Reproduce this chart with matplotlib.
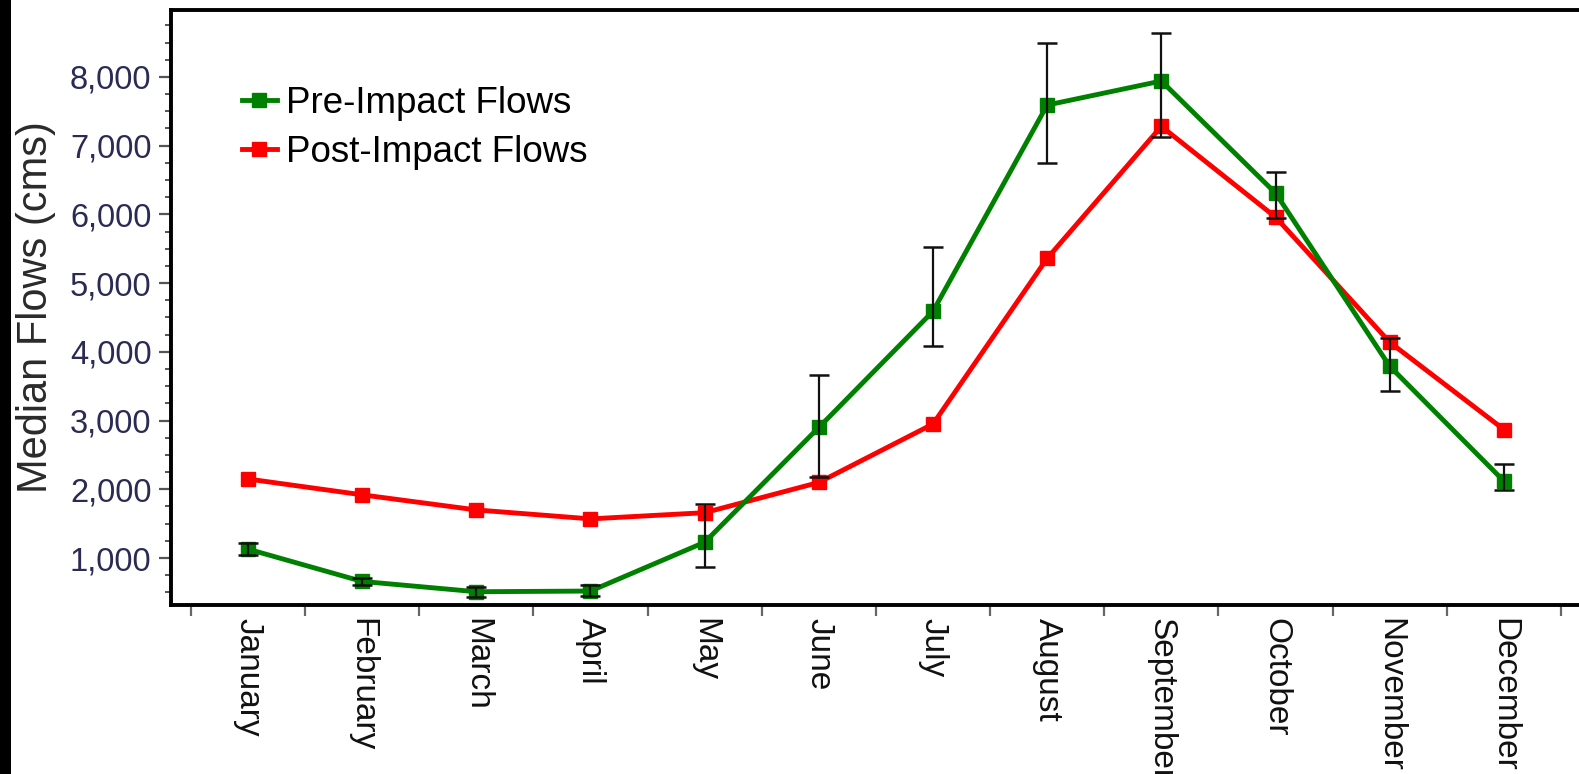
import matplotlib
matplotlib.use("Agg")
import matplotlib.pyplot as plt
from matplotlib.patches import Rectangle
from matplotlib.ticker import FixedLocator, MultipleLocator, FuncFormatter

# Monthly median flows (cms)
months = ["January", "February", "March", "April", "May", "June",
          "July", "August", "September", "October", "November", "December"]
pre_impact = [1130, 660, 510, 520, 1230, 2900, 4590, 7590, 7940, 6310, 3790, 2120]
pre_upper = [1220, 710, 580, 610, 1780, 3670, 5520, 8490, 8640, 6620, 4200, 2370]
pre_lower = [1045, 610, 440, 450, 870, 2180, 4080, 6740, 7130, 5940, 3430, 1990]
post_impact = [2150, 1920, 1700, 1570, 1660, 2100, 2950, 5360, 7280, 5960, 4140, 2870]

W, H = 1579, 774
fig = plt.figure(figsize=(W / 100, H / 100), dpi=100)
fig.patch.set_facecolor("white")
plt.rcParams["font.family"] = ["Liberation Sans", "DejaVu Sans"]

# dark strip along the left edge
fig.add_artist(Rectangle((0, 0), 11 / W, 1, transform=fig.transFigure,
                         facecolor="black", edgecolor="none", zorder=10))

left, bottom, top = 171 / W, 1 - 605 / H, 1 - 10 / H
ax = fig.add_axes([left, bottom, 1.0 - left, top - bottom])

x = list(range(1, len(months) + 1))
yerr = [[p - lo for p, lo in zip(pre_impact, pre_lower)],
        [hi - p for p, hi in zip(pre_impact, pre_upper)]]

ax.plot(x, post_impact, color="#ff0000", lw=3.5, marker="s", ms=10,
        label="Post-Impact Flows", zorder=3)
ax.plot(x, pre_impact, color="#008000", lw=3.5, marker="s", ms=10,
        label="Pre-Impact Flows", zorder=4)
ax.errorbar(x, pre_impact, yerr=yerr, fmt="none", ecolor="#111111",
            elinewidth=1.6, capsize=7.5, capthick=1.8, zorder=5)

ax.set_xlim(0.326, 12.658)
ax.set_ylim(317, 8973)

# month labels centred on the points, tick marks on the boundaries
ax.xaxis.set_major_locator(FixedLocator(x))
ax.set_xticklabels(months, rotation=270, ha="center", va="top",
                   fontsize=24, color="#111111")
ax.xaxis.set_minor_locator(FixedLocator([i + 0.5 for i in range(0, 13)]))
ax.tick_params(axis="x", which="major", length=0, pad=9)
ax.tick_params(axis="x", which="minor", length=8, width=1.6,
               color="#666666", direction="out")

ax.yaxis.set_major_locator(FixedLocator(range(1000, 9000, 1000)))
ax.yaxis.set_minor_locator(MultipleLocator(250))
ax.yaxis.set_major_formatter(FuncFormatter(lambda v, p: f"{int(v):,}"))
ax.tick_params(axis="y", which="major", length=9, width=1.6,
               color="#555555", labelsize=23.5, labelcolor="#2a2a55", pad=5)
ax.tick_params(axis="y", which="minor", length=4.5, width=1.4,
               color="#555555")

for side in ("left", "bottom", "top"):
    ax.spines[side].set_linewidth(2.8)
    ax.spines[side].set_color("black")
ax.spines["right"].set_visible(False)

ax.set_ylabel("Median Flows (cms)", fontsize=30, color="#2a2a2a", va="center")
ax.yaxis.set_label_coords((36 - 171) / (W - 171), 0.5)

handles, labels = ax.get_legend_handles_labels()
order = [1, 0]
ax.legend([handles[i] for i in order], [labels[i] for i in order],
          loc="upper left", bbox_to_anchor=(242 / W, 1 - 86 / H),
          bbox_transform=fig.transFigure, frameon=False, fontsize=26.5,
          handlelength=0.95, handletextpad=0.25, borderpad=0,
          borderaxespad=0, labelspacing=0.38, markerscale=1.0)

fig.savefig("out.png", dpi=100)
